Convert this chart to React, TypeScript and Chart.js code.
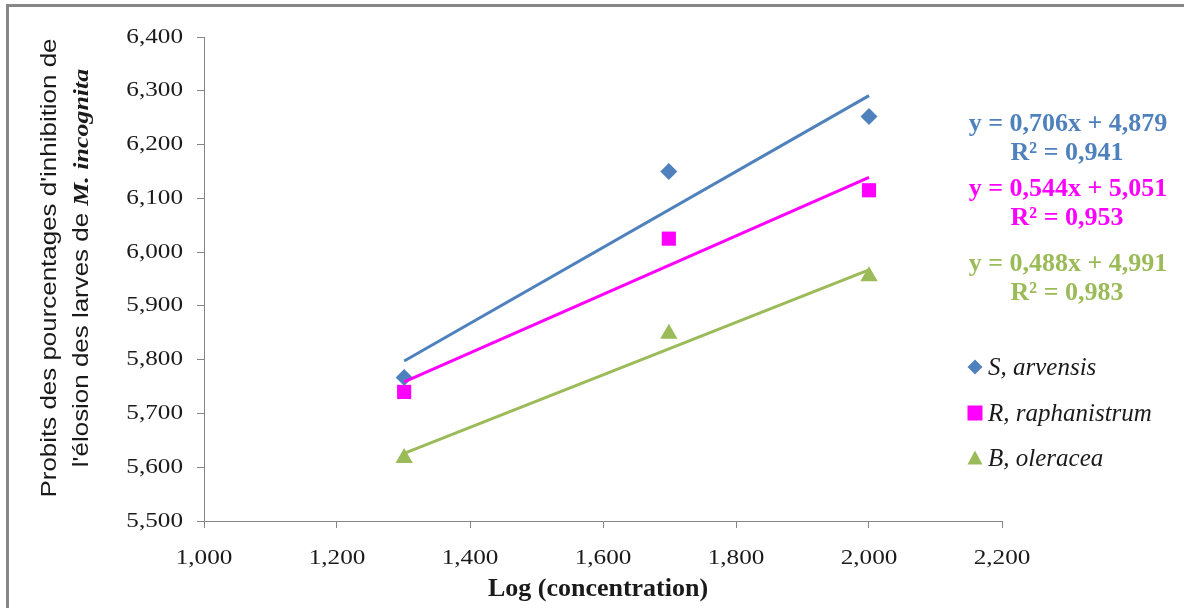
import { useEffect, useRef } from "react";
import { Chart, registerables } from "chart.js";

Chart.register(...registerables);

// Log10 of the tested concentrations
const logConc = [1.301, 1.699, 2.0];

// Probit values of inhibition for each plant extract
const sArvensis = [5.767, 6.15, 6.252];
const rRaphanistrum = [5.74, 6.025, 6.115];
const bOleracea = [5.617, 5.848, 5.955];

// Linear trend lines (slope, intercept, R²) per extract
const trendSlopes = [0.706, 0.544, 0.488];
const trendIntercepts = [4.879, 5.051, 4.991];
const rSquared = ["0,941", "0,953", "0,983"];

const speciesNames = ["S, arvensis", "R, raphanistrum", "B, oleracea"];
const speciesColors = ["#4F81BD", "#FF00FF", "#9BBB59"];
const pointStyles = ["rectRot", "rect", "triangle"];
const pointRadii = [8.5, 10, 10];

const xMin = 1.0;
const xMax = 2.2;
const xStep = 0.2;
const yMin = 5.5;
const yMax = 6.4;
const yStep = 0.1;

const yTitleLine1 = "Probits des pourcentages d'inhibition de";
const yTitleLine2a = "l'élosion des larves de ";
const yTitleLine2b = "M. incognita";
const xTitle = "Log (concentration)";

const AXIS_GRAY = "#868686";
const TEXT_DARK = "#1a1a1a";

const fmt = (v: number, d = 3) => v.toFixed(d).replace(".", ",");

function drawMarker(ctx: CanvasRenderingContext2D, style: string, x: number, y: number, r: number, color: string) {
  ctx.save();
  ctx.fillStyle = color;
  ctx.beginPath();
  if (style === "rectRot") {
    ctx.moveTo(x, y - r);
    ctx.lineTo(x + r, y);
    ctx.lineTo(x, y + r);
    ctx.lineTo(x - r, y);
  } else if (style === "rect") {
    ctx.rect(x - r, y - r, 2 * r, 2 * r);
  } else {
    ctx.moveTo(x, y - r);
    ctx.lineTo(x + r, y + r * 0.85);
    ctx.lineTo(x - r, y + r * 0.85);
  }
  ctx.closePath();
  ctx.fill();
  ctx.restore();
}

const decorations = {
  id: "decorations",
  afterDraw(chart: any) {
    const ctx: CanvasRenderingContext2D = chart.ctx;
    const xs = chart.scales.x;
    const ys = chart.scales.y;
    const area = chart.chartArea;

    // Frame around the figure
    ctx.save();
    ctx.strokeStyle = "#878787";
    ctx.lineWidth = 3;
    ctx.strokeRect(7.5, 5.5, 1190, 620);
    ctx.restore();

    // Tick labels
    ctx.save();
    ctx.fillStyle = TEXT_DARK;
    ctx.font = '21px "Liberation Serif"';
    ctx.textBaseline = "middle";
    const stretch = 1.2;
    ys.ticks.forEach((t: any) => {
      const py = ys.getPixelForValue(t.value);
      const label = fmt(t.value);
      ctx.save();
      ctx.translate(183, py);
      ctx.scale(stretch, 1);
      ctx.textAlign = "right";
      ctx.fillText(label, 0, 0);
      ctx.restore();
    });
    xs.ticks.forEach((t: any) => {
      const px = xs.getPixelForValue(t.value);
      const label = fmt(t.value);
      ctx.save();
      ctx.translate(px, area.bottom + 37);
      ctx.scale(stretch, 1);
      ctx.textAlign = "center";
      ctx.fillText(label, 0, 0);
      ctx.restore();
    });
    ctx.restore();

    // X axis title
    ctx.save();
    ctx.fillStyle = TEXT_DARK;
    ctx.font = 'bold 26px "Liberation Serif"';
    ctx.textAlign = "center";
    ctx.textBaseline = "middle";
    ctx.fillText(xTitle, 598, 589);
    ctx.restore();

    // Y axis title (two rotated lines, species name in bold italic serif)
    ctx.save();
    const sansFont = '22px "Liberation Sans"';
    const serifFont = 'bold italic 22px "Liberation Serif"';
    ctx.font = sansFont;
    const w1 = ctx.measureText(yTitleLine1).width;
    const w2a = ctx.measureText(yTitleLine2a).width;
    ctx.font = serifFont;
    const w2b = ctx.measureText(yTitleLine2b).width;
    const sx = 459 / w1;
    const cy = 268;
    ctx.fillStyle = TEXT_DARK;
    ctx.textBaseline = "middle";
    ctx.textAlign = "left";

    ctx.save();
    ctx.translate(50, cy);
    ctx.rotate(-Math.PI / 2);
    ctx.scale(sx, 1);
    ctx.font = sansFont;
    ctx.fillText(yTitleLine1, -w1 / 2, 0);
    ctx.restore();

    ctx.save();
    ctx.translate(82, cy);
    ctx.rotate(-Math.PI / 2);
    ctx.scale(sx, 1);
    const start = -(w2a + w2b) / 2;
    ctx.font = sansFont;
    ctx.fillText(yTitleLine2a, start, 0);
    ctx.font = serifFont;
    ctx.fillText(yTitleLine2b, start + w2a, 0);
    ctx.restore();
    ctx.restore();

    // Trend line equations
    ctx.save();
    ctx.font = 'bold 26px "Liberation Serif"';
    ctx.textAlign = "center";
    ctx.textBaseline = "middle";
    const eqY = [124, 189, 264];
    trendSlopes.forEach((s, i) => {
      ctx.fillStyle = speciesColors[i];
      const eq = `y = ${fmt(s)}x + ${fmt(trendIntercepts[i])}`;
      ctx.fillText(eq, 1068, eqY[i]);
      ctx.fillText(`R² = ${rSquared[i]}`, 1067, eqY[i] + 29);
    });
    ctx.restore();

    // Legend
    ctx.save();
    ctx.font = 'italic 25px "Liberation Serif"';
    ctx.textAlign = "left";
    ctx.textBaseline = "middle";
    ctx.fillStyle = TEXT_DARK;
    const legY = [367, 413, 458];
    speciesNames.forEach((name, i) => {
      drawMarker(ctx, pointStyles[i], 975, legY[i], 7.5, speciesColors[i]);
      ctx.fillText(name, 988, legY[i] + 1);
    });
    ctx.restore();
  },
};

export default function App() {
  const canvasRef = useRef<HTMLCanvasElement | null>(null);

  useEffect(() => {
    const canvas = canvasRef.current;
    if (!canvas) return;

    const seriesValues = [sArvensis, rRaphanistrum, bOleracea];
    const fitLo = Math.min(...logConc);
    const fitHi = Math.max(...logConc);

    const pointSets = seriesValues.map((vals, i) => ({
      type: "scatter" as const,
      label: speciesNames[i],
      data: logConc.map((x, k) => ({ x, y: vals[k] })),
      pointStyle: pointStyles[i],
      pointRadius: pointRadii[i],
      pointBackgroundColor: speciesColors[i],
      pointBorderColor: speciesColors[i],
      pointBorderWidth: 0,
      showLine: false,
      order: 2,
    }));

    const trendSets = trendSlopes.map((s, i) => ({
      type: "line" as const,
      label: `trend ${i}`,
      data: [fitLo, fitHi].map((x) => ({ x, y: s * x + trendIntercepts[i] })),
      borderColor: speciesColors[i],
      borderWidth: 3,
      pointRadius: 0,
      fill: false,
      tension: 0,
      order: 1,
    }));

    const chart = new Chart(canvas, {
      type: "scatter",
      data: { datasets: [...trendSets, ...pointSets] as any },
      options: {
        responsive: false,
        animation: false,
        layout: { padding: { left: 0, right: 182, top: 37, bottom: 0 } },
        plugins: { legend: { display: false }, tooltip: { enabled: false } },
        scales: {
          x: {
            type: "linear",
            min: xMin,
            max: xMax,
            ticks: { stepSize: xStep, display: false },
            grid: { drawOnChartArea: false, drawTicks: true, tickLength: 7, color: AXIS_GRAY },
            border: { color: AXIS_GRAY, width: 1 },
            afterFit: (s: any) => {
              s.height = 87;
            },
          },
          y: {
            type: "linear",
            min: yMin,
            max: yMax,
            ticks: { stepSize: yStep, display: false },
            grid: { drawOnChartArea: false, drawTicks: true, tickLength: 7, color: AXIS_GRAY },
            border: { color: AXIS_GRAY, width: 1 },
            afterFit: (s: any) => {
              s.width = 204;
            },
          },
        },
      } as any,
      plugins: [decorations],
    });

    return () => chart.destroy();
  }, []);

  return (
    <div style={{ position: "fixed", left: 0, top: 0, width: 1184, height: 608, background: "#fff" }}>
      <canvas ref={canvasRef} width={1184} height={608} style={{ display: "block" }} />
    </div>
  );
}
